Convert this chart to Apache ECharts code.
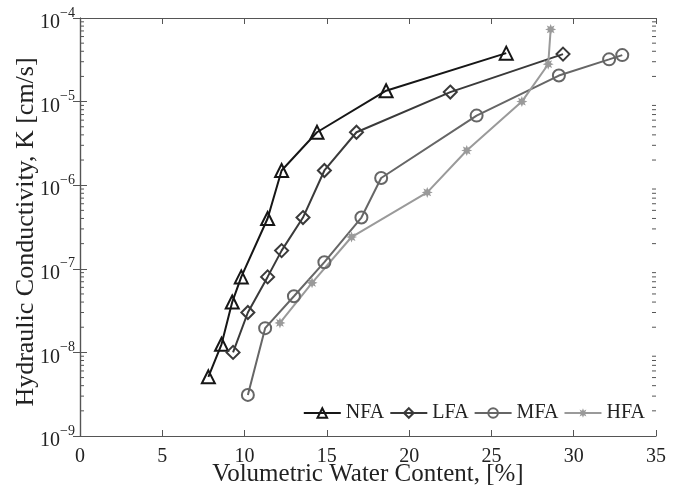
<!DOCTYPE html>
<html>
<head>
<meta charset="utf-8">
<script src="https://cdn.jsdelivr.net/npm/echarts@6/dist/echarts.min.js"></script>
<style>
  html, body { margin: 0; padding: 0; background: #fff; }
  #main { width: 679px; height: 491px; }
</style>
</head>
<body>
<div id="main"></div>
<script>
// data: [water content %, K cm/s]
var nfa = [[7.8, 5.1e-9], [8.6, 1.25e-8], [9.25, 4.0e-8], [9.8, 8.0e-8], [11.4, 4.0e-7],
  [12.25, 1.5e-6], [14.4, 4.3e-6], [18.6, 1.35e-5], [25.9, 3.8e-5]];
var lfa = [[9.3, 1.0e-8], [10.2, 3.0e-8], [11.4, 8.0e-8], [12.25, 1.65e-7], [13.55, 4.1e-7],
  [14.85, 1.5e-6], [16.8, 4.3e-6], [22.5, 1.3e-5], [29.35, 3.7e-5]];
var mfa = [[10.2, 3.1e-9], [11.25, 1.95e-8], [13.0, 4.7e-8], [14.85, 1.2e-7], [17.1, 4.1e-7],
  [18.3, 1.22e-6], [24.1, 6.8e-6], [29.1, 2.05e-5], [32.15, 3.2e-5], [32.95, 3.6e-5]];
var hfa = [[12.15, 2.25e-8], [14.1, 6.8e-8], [16.5, 2.4e-7], [21.1, 8.2e-7], [23.5, 2.6e-6],
  [26.85, 1.0e-5], [28.45, 2.8e-5], [28.6, 7.3e-5]];

var names = ['NFA', 'LFA', 'MFA', 'HFA'];
var colors = ['#161616', '#3a3a3a', '#666666', '#9a9a9a'];

// minor log ticks (2..9 x 10^n)
var decades = [-9, -8, -7, -6, -5];
var mantissas = [2, 3, 4, 5, 6, 7, 8, 9];
var minorTicks = [];
decades.forEach(function (d) {
  mantissas.forEach(function (m) { minorTicks.push([0, m * Math.pow(10, d)]); });
});

var starPath = 'path://M0,-10 L2,-4.8 L7.07,-7.07 L4.8,-2 L10,0 L4.8,2 L7.07,7.07 L2,4.8 L0,10 L-2,4.8 L-7.07,7.07 L-4.8,2 L-10,0 L-4.8,-2 L-7.07,-7.07 L-2,-4.8 Z';

var font = 'Liberation Serif';
var chart = echarts.init(document.getElementById('main'));

function lineSeries(name, data, color, symbol, size, filled) {
  return {
    name: name,
    type: 'line',
    data: data,
    symbol: symbol,
    symbolSize: size,
    showAllSymbol: true,
    lineStyle: { color: color, width: 2 },
    itemStyle: {
      color: filled ? color : 'rgba(255,255,255,0)',
      borderColor: color,
      borderWidth: filled ? 0 : 2
    },
    emphasis: { disabled: true },
    z: 3
  };
}

var option = {
  animation: false,
  backgroundColor: '#fff',
  grid: { left: 80, right: 23, top: 18, bottom: 55, outerBoundsMode: 'none' },
  legend: {
    data: names,
    right: 29,
    bottom: 63,
    itemWidth: 37,
    itemHeight: 12,
    itemGap: 5,
    textStyle: { fontFamily: font, fontSize: 20, color: '#222' }
  },
  xAxis: [{
    type: 'value',
    min: 0, max: 35, interval: 5,
    name: 'Volumetric Water Content, [%]',
    nameLocation: 'middle',
    nameGap: 26,
    nameMoveOverlap: false,
    nameTextStyle: { fontFamily: font, fontSize: 25, color: '#222' },
    axisLine: { lineStyle: { color: '#555', width: 1.2 } },
    axisTick: { inside: true, length: 6, lineStyle: { color: '#555' } },
    axisLabel: { fontFamily: font, fontSize: 20, color: '#222', margin: 11 },
    splitLine: { show: false }
  }, {
    type: 'value',
    position: 'top',
    min: 0, max: 35, interval: 5,
    axisLine: { lineStyle: { color: '#555', width: 1.2 } },
    axisTick: { inside: true, length: 6, lineStyle: { color: '#555' } },
    axisLabel: { show: false },
    splitLine: { show: false }
  }],
  yAxis: [{
    type: 'log',
    min: 1e-9, max: 1e-4,
    logBase: 10,
    name: 'Hydraulic Conductivity, K [cm/s]',
    nameLocation: 'middle',
    nameGap: 41,
    nameMoveOverlap: false,
    nameTextStyle: { fontFamily: font, fontSize: 26, color: '#222', padding: [0, 10, 0, 0] },
    axisLine: { show: true, lineStyle: { color: '#555', width: 1.2 } },
    axisTick: { show: true, inside: true, length: 7, lineStyle: { color: '#555' } },
    axisLabel: {
      margin: 5,
      formatter: function (v) {
        var e = Math.round(Math.log10(v));
        return '{b|10}{s|' + (e < 0 ? '\u2212' + (-e) : e) + '}';
      },
      rich: {
        b: { fontFamily: font, fontSize: 20, color: '#222', padding: [10, 0, 0, 0] },
        s: { fontFamily: font, fontSize: 14, color: '#222', padding: [0, 0, 10, 0] }
      }
    },
    splitLine: { show: false }
  }, {
    type: 'log',
    min: 1e-9, max: 1e-4,
    logBase: 10,
    position: 'right',
    axisLine: { show: true, lineStyle: { color: '#555', width: 1.2 } },
    axisTick: { show: true, inside: true, length: 7, lineStyle: { color: '#555' } },
    axisLabel: { show: false },
    splitLine: { show: false }
  }],
  series: [
    lineSeries('NFA', nfa, colors[0], 'triangle', 13, false),
    lineSeries('LFA', lfa, colors[1], 'diamond', 13, false),
    lineSeries('MFA', mfa, colors[2], 'circle', 12, false),
    lineSeries('HFA', hfa, colors[3], starPath, 11, true),
    {
      type: 'custom',
      silent: true,
      data: minorTicks,
      z: 2,
      renderItem: function (params, api) {
        var v = api.value(1);
        var l = api.coord([0, v]);
        var r = api.coord([35, v]);
        var len = 4;
        var st = { stroke: '#555', lineWidth: 1 };
        return {
          type: 'group',
          children: [
            { type: 'line', shape: { x1: l[0], y1: l[1], x2: l[0] + len, y2: l[1] }, style: st },
            { type: 'line', shape: { x1: r[0], y1: r[1], x2: r[0] - len, y2: r[1] }, style: st }
          ]
        };
      }
    }
  ]
};

chart.setOption(option);
</script>
</body>
</html>
